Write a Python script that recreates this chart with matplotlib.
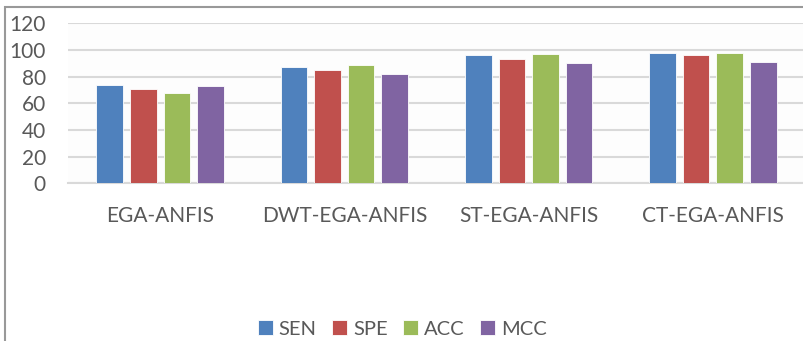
import numpy as np
import matplotlib
matplotlib.use("Agg")
import matplotlib.pyplot as plt
from matplotlib.patches import Rectangle

# Performance of the four ANFIS variants
methods = ["EGA-ANFIS", "DWT-EGA-ANFIS", "ST-EGA-ANFIS", "CT-EGA-ANFIS"]
sen = [74, 87.5, 96, 97.5]
spe = [71, 85, 93, 96.5]
acc = [68, 88.5, 97, 97.5]
mcc = [73, 82, 90, 91]
metric_names = ["SEN", "SPE", "ACC", "MCC"]
colors = ["#4F81BD", "#C0504D", "#9BBB59", "#8064A2"]

plt.rcParams['font.family'] = ['Lato', 'DejaVu Sans']

fig = plt.figure(figsize=(8.04, 3.41), dpi=100)
fig.patch.set_facecolor("white")
ax = fig.add_axes([68 / 804, 1 - 183.3 / 341, 737 / 804, 160 / 341])
ax.set_facecolor("#fdfdfd")

x = np.arange(len(methods))
step = 0.182
width = 0.145
for i, (vals, name) in enumerate(zip([sen, spe, acc, mcc], metric_names)):
    ax.bar(x + (i - 1.5) * step, vals, width, color=colors[i], label=name,
           edgecolor="white", linewidth=0.6, zorder=3)

ax.set_xlim(-0.5, len(methods) - 0.5)
ax.set_ylim(0, 120)
ax.set_yticks(range(0, 121, 20))
ax.set_xticks(x)
ax.set_xticklabels(methods, fontsize=15)
ax.grid(axis="y", color="#d9d9d9", linewidth=1.5, zorder=0)
for side in ["top", "right", "left"]:
    ax.spines[side].set_visible(False)
ax.spines["bottom"].set_color("#d9d9d9")
ax.spines["bottom"].set_linewidth(1.5)
ax.tick_params(axis="both", length=0, colors="#595959")
ax.tick_params(axis="y", labelsize=15, pad=16)
ax.tick_params(axis="x", pad=16)

fig.legend(loc="center", bbox_to_anchor=(0.5, 1 - 329 / 341), ncol=4,
           frameon=False, fontsize=14.5, handlelength=0.75, handleheight=0.75,
           handletextpad=0.3, columnspacing=0.75, labelcolor="#595959")

# chart frame on the left and top
fig.add_artist(Rectangle((5 / 804, -0.1), 1.2, 1 - 7 / 341 + 0.1,
                         transform=fig.transFigure, fill=False,
                         edgecolor="#999999", linewidth=1.5))

fig.savefig("out.png", dpi=100)
